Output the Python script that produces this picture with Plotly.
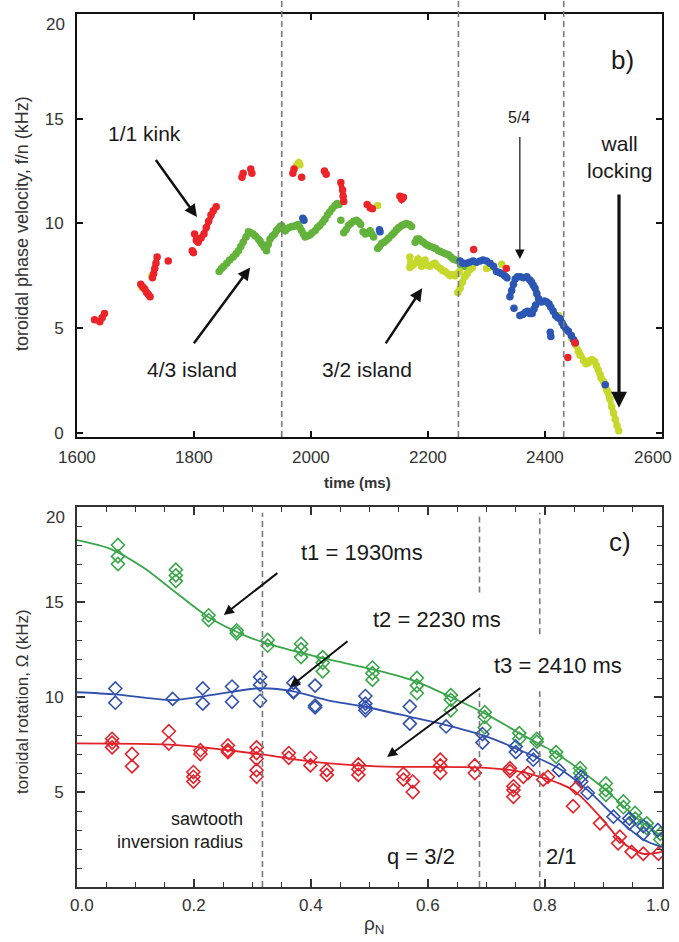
import plotly.graph_objects as go

W, H = 679, 942
FONT = "Arial, Liberation Sans, sans-serif"

# ---------------- panel b): toroidal phase velocity vs time ----------------
# segments separated by None
red_t = [1630, None, 1639, 1643, 1647, None,
         1709, 1713, 1716, 1719, 1722, 1725, None,
         1737, 1735, 1733, 1731, 1729, None,
         1756, None, 1797, 1799, None,
         1801, 1804, 1807, 1812, 1817, 1821, 1825, 1829, 1833, 1838, None,
         1882, 1884, None, 1897, 1899, None, 1969, 1971, None, 1984, None,
         2023, 2026, None, 2051, 2054, 2055, 2056, None,
         2096, 2101, 2105, None, 2152, 2155, 2158, None,
         2278, None, 2334, None, 2439, None, 2451]
red_f = [5.4, None, 5.3, 5.5, 5.7, None,
         7.1, 6.95, 6.85, 6.7, 6.6, 6.5, None,
         8.4, 8.1, 7.85, 7.6, 7.4, None,
         8.2, None, 8.7, 8.6, None,
         9.5, 9.2, 9.1, 9.3, 9.5, 9.8, 10.1, 10.4, 10.6, 10.8, None,
         12.2, 12.4, None, 12.6, 12.4, None, 12.4, 12.6, None, 12.2, None,
         12.5, 12.35, None, 11.95, 11.6, 11.3, 11.05, None,
         10.9, 10.75, 10.7, None, 11.3, 11.15, 11.25, None,
         8.75, None, 7.85, None, 3.6, None, 4.3]

green_t = [1843, 1847, 1851, 1856, 1861, 1867, 1872, 1876, 1880, 1884, 1889, 1893,
           1897, 1901, 1905, 1910, 1913, 1916, 1920, 1924, 1927, 1930, 1934, 1938,
           1941, 1944, 1947, 1950, 1953, 1956, 1959, 1963, 1967, 1970, 1974, 1978,
           1981, 1984, 1987, 1990, 1994, 1998, 2002, 2007, 2011, 2015, 2020, 2024,
           2028, 2032, 2036, 2041, 2045, 2048, None,
           2051, None,
           2056, 2060, 2064, 2068, 2073, 2078, 2082, 2085, None,
           2089, 2093, 2097, 2101, 2104, 2107, None,
           2114, 2117, 2121, 2125, 2129, 2133, 2138, 2142, 2146, 2150, 2155, 2159,
           2163, 2168, 2172, None,
           2178, 2181, 2185, 2189, 2192, 2196, 2200, 2204, 2209, 2213, 2218, 2222,
           2226, 2230, 2235, 2239, 2243, 2247, 2252, 2256, 2262, 2268]
green_f = [7.7, 7.85, 7.95, 8.1, 8.25, 8.4, 8.55, 8.7, 8.9, 9.1, 9.35, 9.6,
           9.55, 9.5, 9.4, 9.25, 9.15, 9.0, 8.85, 8.7, 9.0, 9.25, 9.4, 9.5,
           9.65, 9.75, 9.85, 9.9, 9.75, 9.65, 9.75, 9.8, 9.85, 9.85, 9.9, 9.95,
           9.8, 9.65, 9.5, 9.35, 9.4, 9.45, 9.55, 9.65, 9.8, 9.9, 10.05, 10.2,
           10.4, 10.55, 10.7, 10.85, 10.95, 10.9, None,
           10.15, None,
           9.55, 9.7, 9.9, 10.0, 10.1, 10.15, 10.05, 9.95, None,
           9.6, 9.5, 9.55, 9.65, 9.5, 9.35, None,
           8.8, 8.9, 9.05, 9.1, 9.2, 9.3, 9.45, 9.55, 9.7, 9.8, 9.9, 9.95,
           10.0, 9.95, 9.85, None,
           9.1, 9.25, 9.25, 9.15, 9.1, 9.0, 8.95, 8.9, 8.85, 8.8, 8.7, 8.65,
           8.6, 8.55, 8.5, 8.4, 8.3, 8.25, 8.2, 8.0, 7.95, 7.95]

yellow_t = [1711, None, 1728, None, 1975, 1979, 1981, None, 2114, None,
            2169, 2169, 2174, 2178, 2183, 2189, 2195, 2199, 2203, 2208, 2212, 2216,
            2221, 2225, 2229, 2234, 2238, 2242, 2246, 2250, 2254, None,
            2251, 2255, 2259, 2263, 2267, 2272, 2276, None,
            2300, 2304, None, 2326, None, 2386, None, 2423, None,
            2446, 2452, 2457, 2460, 2466, 2470, 2474, 2477, 2480, 2485, 2488, 2491,
            2494, 2496, 2500, 2503, 2506, 2508, 2511, 2514, 2517, 2520, 2523, 2526]
yellow_f = [6.95, None, 7.5, None, 12.75, 12.9, 12.8, None, 10.85, None,
            8.4, 7.9, 8.0, 8.1, 8.3, 7.95, 8.25, 8.0, 7.95, 8.05, 8.1, 7.95,
            7.85, 7.75, 7.7, 7.6, 7.5, 7.55, 7.5, 7.6, 7.7, None,
            6.7, 6.9, 7.2, 7.45, 7.6, 7.8, 7.9, None,
            7.85, 7.9, None, 8.05, None, 6.6, None, 5.6, None,
            4.5, 4.2, 3.9, 3.7, 3.45, 3.3, 3.35, 3.45, 3.5, 3.4, 3.2, 3.0,
            2.8, 2.6, 2.45, 2.3, 2.05, 1.9, 1.6, 1.25, 0.95, 0.65, 0.35, 0.1]

blue_t = [1986, 1988, None, 2117, 2118, None,
          2255, 2260, 2266, 2271, 2277, 2283, 2289, 2294, 2300, 2306, 2312, 2317,
          2322, 2326, 2331, 2335, None,
          2340, 2343, 2346, 2349, 2353, 2358, 2363, 2369, 2374, 2377, 2380, 2383,
          2386, 2389, 2394, 2399, 2403, 2407, 2410, 2414, 2418, 2422, 2426, 2429,
          2432, 2436, 2440, 2445, 2449, 2452, None,
          2347, None, 2357, 2362, 2366, 2370, 2374, 2378, 2381, 2384, None,
          2409, 2410, None, 2503]
blue_f = [10.25, 10.15, None, 9.7, 9.6, None,
          8.2, 8.1, 8.1, 8.15, 8.2, 8.15, 8.2, 8.25, 8.2, 8.1, 7.95, 7.7,
          7.65, 7.6, 7.5, 7.4, None,
          6.5, 6.8, 7.1, 7.35, 7.45, 7.45, 7.4, 7.45, 7.3, 7.2, 7.05, 6.9,
          6.65, 6.4, 6.25, 6.3, 6.25, 6.15, 6.0, 5.8, 5.6, 5.5, 5.45, 5.25,
          5.1, 4.95, 4.85, 4.65, 4.45, 4.3, None,
          5.95, None, 5.6, 5.65, 5.75, 5.8, 5.7, 5.7, 5.9, 6.1, None,
          4.8, 4.6, None, 2.3]

time_ticks = [1600, 1800, 2000, 2200, 2400, 2600]
time_labels = ["1600", "1800", "2000", "2200", "2400", "2600"]
freq_ticks = [0, 5, 10, 15]
top_markers = [2252, 2432]
kink_marker = 1950

# ---------------- panel c): rotation profiles ----------------
t1_rho = [0.070, 0.070, 0.070, 0.169, 0.169, 0.169, 0.225, 0.225, 0.273, 0.273,
          0.326, 0.326, 0.383, 0.383, 0.383, 0.420, 0.420, 0.420, 0.505, 0.505,
          0.505, 0.581, 0.581, 0.581, 0.639, 0.639, 0.639, 0.697, 0.697, 0.697,
          0.756, 0.756, 0.786, 0.786, 0.819, 0.819, 0.860, 0.860, 0.904, 0.904,
          0.904, 0.934, 0.934, 0.954, 0.954, 0.974, 0.974, 0.997, 0.997]
t1_om = [18.0, 17.4, 17.0, 16.7, 16.4, 16.1, 14.3, 14.05, 13.5, 13.35,
         13.0, 12.7, 12.8, 12.5, 12.1, 12.1, 11.8, 11.35, 11.55, 11.25,
         10.9, 11.0, 10.6, 10.2, 10.1, 9.85, 9.3, 9.2, 8.95, 8.4,
         8.1, 7.8, 7.8, 7.65, 7.1, 6.85, 6.25, 6.0, 5.45, 5.1,
         4.85, 4.5, 4.2, 3.9, 3.6, 3.35, 3.1, 2.8, 2.5]
t1_fit_rho = [0.0, 0.057, 0.114, 0.171, 0.228, 0.285, 0.319, 0.399, 0.456, 0.513,
              0.581, 0.639, 0.697, 0.756, 0.819, 0.860, 0.904, 0.954, 1.0]
t1_fit_om = [18.26, 17.8, 16.8, 15.45, 14.14, 13.26, 12.87, 12.2, 11.8, 11.4,
             10.8, 10.0, 9.14, 8.1, 7.03, 6.16, 5.1, 3.7, 2.65]

t2_rho = [0.0655, 0.0655, 0.1635, 0.215, 0.215, 0.265, 0.265, 0.313, 0.313, 0.313,
          0.370, 0.370, 0.370, 0.407, 0.407, 0.407, 0.493, 0.493, 0.493, 0.493,
          0.569, 0.569, 0.631, 0.693, 0.693, 0.750, 0.750, 0.780, 0.780, 0.824,
          0.862, 0.862, 0.873, 0.917, 0.944, 0.944, 0.968, 0.968, 0.993]
t2_om = [10.45, 9.7, 9.9, 10.45, 9.65, 10.55, 9.75, 11.05, 10.65, 9.8,
         10.75, 10.3, 10.25, 10.6, 9.55, 9.45, 10.05, 9.65, 9.45, 9.3,
         9.5, 8.6, 8.45, 8.05, 7.6, 7.4, 7.1, 6.95, 6.7, 6.15,
         5.8, 5.55, 4.95, 3.7, 3.6, 3.35, 3.2, 2.8, 3.0]
t2_fit_rho = [0.0, 0.0655, 0.1635, 0.228, 0.313, 0.370, 0.427, 0.490, 0.569, 0.631,
              0.693, 0.750, 0.824, 0.873, 0.917, 0.968, 1.0]
t2_fit_om = [10.25, 10.14, 9.84, 10.1, 10.46, 10.3, 9.84, 9.5, 8.96, 8.52,
             7.99, 7.3, 6.24, 5.1, 3.79, 2.5, 2.1]

t3_rho = [0.060, 0.060, 0.060, 0.094, 0.094, 0.157, 0.157, 0.199, 0.199, 0.199,
          0.211, 0.211, 0.258, 0.258, 0.258, 0.307, 0.307, 0.307, 0.307, 0.307,
          0.362, 0.362, 0.399, 0.399, 0.427, 0.427, 0.481, 0.481, 0.481, 0.558,
          0.558, 0.574, 0.574, 0.621, 0.621, 0.621, 0.680, 0.680, 0.740, 0.740,
          0.746, 0.746, 0.746, 0.763, 0.771, 0.797, 0.805, 0.848, 0.853, 0.894,
          0.925, 0.928, 0.948, 0.968, 0.994]
t3_om = [7.8, 7.6, 7.35, 7.0, 6.35, 8.2, 7.55, 6.05, 5.8, 5.55,
         7.2, 7.0, 7.45, 7.2, 7.1, 7.35, 7.05, 6.75, 6.15, 5.8,
         7.05, 6.8, 6.8, 6.4, 6.15, 5.9, 6.45, 6.2, 5.9, 5.95,
         5.65, 5.55, 5.0, 6.7, 6.4, 6.0, 6.4, 6.0, 6.25, 6.1,
         5.3, 5.1, 4.75, 5.8, 6.0, 5.65, 5.8, 4.25, 5.2, 3.35,
         2.3, 2.65, 1.85, 1.75, 1.75]
t3_fit_rho = [0.0, 0.171, 0.316, 0.400, 0.513, 0.680, 0.740, 0.792, 0.848, 0.894,
              0.934, 0.968, 1.0]
t3_fit_om = [7.56, 7.47, 6.98, 6.6, 6.35, 6.3, 6.16, 5.8, 5.1, 3.7,
             2.3, 1.75, 1.85]

rho_ticks = [0.0, 0.2, 0.4, 0.6, 0.8, 1.0]
rho_labels = ["0.0", "0.2", "0.4", "0.6", "0.8", "1.0"]
om_ticks = [5, 10, 15]
sawtooth_rho = 0.317
q32_rho = 0.688
q21_rho = 0.791

# ---------------- layout geometry (pixels -> paper) ----------------
X0, X1 = 77, 662
TOP_Y0, TOP_Y1 = 14, 437
BOT_Y0, BOT_Y1 = 507, 887
xdom = [X0 / W, X1 / W]
ydom_top = [1 - TOP_Y1 / H, 1 - TOP_Y0 / H]
ydom_bot = [1 - BOT_Y1 / H, 1 - BOT_Y0 / H]

C_RED, C_GREEN, C_YEL, C_BLUE = "#ec2328", "#63b23b", "#c7d82c", "#2b56b3"
L_GREEN, L_BLUE, L_RED = "#3aa64a", "#3050ae", "#e1222b"

fig = go.Figure()

for t, f, c in [(green_t, green_f, C_GREEN), (yellow_t, yellow_f, C_YEL),
                (blue_t, blue_f, C_BLUE), (red_t, red_f, C_RED)]:
    fig.add_trace(go.Scatter(x=t, y=f, mode="lines+markers", xaxis="x", yaxis="y",
                             line=dict(color=c, width=5.5),
                             marker=dict(color=c, size=7.5),
                             connectgaps=False, showlegend=False, hoverinfo="skip"))

for r, o, fr, fo, c in [(t1_rho, t1_om, t1_fit_rho, t1_fit_om, L_GREEN),
                        (t2_rho, t2_om, t2_fit_rho, t2_fit_om, L_BLUE),
                        (t3_rho, t3_om, t3_fit_rho, t3_fit_om, L_RED)]:
    fig.add_trace(go.Scatter(x=fr, y=fo, mode="lines", xaxis="x2", yaxis="y2",
                             line=dict(color=c, width=1.8, shape="spline", smoothing=0.8),
                             showlegend=False, hoverinfo="skip"))
    fig.add_trace(go.Scatter(x=r, y=o, mode="markers", xaxis="x2", yaxis="y2",
                             marker=dict(symbol="diamond-open", size=10, color=c,
                                         line=dict(color=c, width=1.6)),
                             showlegend=False, hoverinfo="skip"))

# dashed markers of time slices (panel b) and rational surfaces (panel c)
DASH = dict(color="#7a7a7a", width=1.6, dash="6px,4px")
shapes = []
for xv in [kink_marker] + top_markers:
    shapes.append(dict(type="line", xref="x", yref="paper", x0=xv, x1=xv,
                       y0=ydom_top[0], y1=1.0, line=DASH))
shapes.append(dict(type="line", xref="x2", yref="y2", x0=sawtooth_rho, x1=sawtooth_rho,
                   y0=0, y1=19.7, line=DASH))
for y0, y1 in [(0, 10.2), (15.5, 19.7)]:
    shapes.append(dict(type="line", xref="x2", yref="y2", x0=q32_rho, x1=q32_rho,
                       y0=y0, y1=y1, line=DASH))
for y0, y1 in [(0, 10.3), (13.3, 19.7)]:
    shapes.append(dict(type="line", xref="x2", yref="y2", x0=q21_rho, x1=q21_rho,
                       y0=y0, y1=y1, line=DASH))

ann = []


def label(x, y, text, size, xr="x", yr="y", **kw):
    d = dict(x=x, y=y, xref=xr, yref=yr, text=text, showarrow=False,
             font=dict(family=FONT, size=size, color="#1a1a1a"),
             xanchor="center", yanchor="middle")
    d.update(kw)
    ann.append(d)


def arrow(hx, hy, tx, ty, width, size=1.0, xr="x", yr="y"):
    ann.append(dict(x=hx, y=hy, ax=tx, ay=ty, xref=xr, yref=yr, axref=xr, ayref=yr,
                    text="", showarrow=True, arrowhead=2, arrowsize=size,
                    arrowwidth=width, arrowcolor="#111111"))


# panel b) labels
label(1716, 14.3, "1/1 kink", 21)
arrow(1805, 10.3, 1733, 13.1, 2.5)
label(1797, 3.0, "4/3 island", 21)
arrow(1896, 7.9, 1798, 4.2, 2.5)
label(2096, 3.0, "3/2 island", 21)
arrow(2190, 6.9, 2126, 4.2, 2.5)
label(2356, 15.05, "5/4", 16)
arrow(2357, 8.3, 2357, 14.2, 1.2, size=1.6)
label(2528, 13.15, "wall<br>locking", 21)
arrow(2526.5, 1.2, 2526.5, 11.45, 3.2)
label(2532, 17.8, "b)", 26)

# panel c) labels
label(0.928, 18.16, "c)", 26, "x2", "y2")
label(0.487, 17.63, "t1 = 1930ms", 22, "x2", "y2")
arrow(0.251, 14.32, 0.345, 16.58, 2.0, xr="x2", yr="y2")
label(0.615, 14.1, "t2 = 2230 ms", 22, "x2", "y2")
arrow(0.364, 10.53, 0.465, 13.0, 2.0, xr="x2", yr="y2")
label(0.822, 11.68, "t3 = 2410 ms", 22, "x2", "y2")
arrow(0.530, 6.84, 0.692, 10.53, 2.0, xr="x2", yr="y2")
label(0.287, 2.95, "sawtooth<br>inversion radius", 18, "x2", "y2",
      xanchor="right", align="right")
label(0.588, 1.58, "q = 3/2", 22, "x2", "y2")
label(0.829, 1.58, "2/1", 22, "x2", "y2")

# x tick labels: placed under each tick, the outermost ones nudged inside the page
TICKFONT = dict(family=FONT, size=17, color="#333333")
n_time = len(time_ticks)
for i, (tv, tl) in enumerate(zip(time_ticks, time_labels)):
    shift = -9 if i == n_time - 1 else 0
    ann.append(dict(x=tv, y=1 - 457 / H, xref="x", yref="paper", text=tl,
                    xshift=shift, showarrow=False, font=TICKFONT,
                    xanchor="center", yanchor="middle"))
n_rho = len(rho_ticks)
for i, (tv, tl) in enumerate(zip(rho_ticks, rho_labels)):
    shift = 5 if i == 0 else (-4 if i == n_rho - 1 else 0)
    ann.append(dict(x=tv, y=1 - 905 / H, xref="x2", yref="paper", text=tl,
                    xshift=shift, showarrow=False, font=TICKFONT,
                    xanchor="center", yanchor="middle"))

# axis titles and the top y tick labels
TITLE = dict(family=FONT, size=17, color="#333333")
ann.append(dict(x=22 / W, y=1 - 224 / H, xref="paper", yref="paper",
                text="toroidal phase velocity, f/n (kHz)", textangle=-90,
                showarrow=False, font=dict(family=FONT, size=18, color="#333333"),
                xanchor="center", yanchor="middle"))
ann.append(dict(x=357 / W, y=1 - 482 / H, xref="paper", yref="paper",
                text="time (ms)", showarrow=False,
                font=dict(family=FONT, size=15, color="#333333", weight="bold"),
                xanchor="center", yanchor="middle"))
ann.append(dict(x=22 / W, y=1 - 702 / H, xref="paper", yref="paper",
                text="toroidal rotation, Ω (kHz)", textangle=-90,
                showarrow=False, font=TITLE, xanchor="center", yanchor="middle"))
ann.append(dict(x=374 / W, y=1 - 925 / H, xref="paper", yref="paper",
                text="ρ<sub>N</sub>", showarrow=False,
                font=dict(family=FONT, size=19, color="#333333"),
                xanchor="center", yanchor="middle"))
ann.append(dict(x=67 / W, y=1 - 25 / H, xref="paper", yref="paper", text="20",
                showarrow=False, font=TICKFONT, xanchor="right", yanchor="middle"))
ann.append(dict(x=67 / W, y=1 - 517 / H, xref="paper", yref="paper", text="20",
                showarrow=False, font=TICKFONT, xanchor="right", yanchor="middle"))

AX_TOP = dict(showline=True, linecolor="#111111", linewidth=2, mirror="ticks",
              ticks="inside", ticklen=6, tickwidth=1.5, tickcolor="#111111",
              showgrid=False, zeroline=False, tickfont=TICKFONT, automargin=False)
AX_BOT = dict(showline=True, linecolor="#333333", linewidth=2, mirror="ticks",
              ticks="inside", ticklen=8, tickwidth=1.5, tickcolor="#333333",
              showgrid=False, zeroline=False, tickfont=TICKFONT, automargin=False)

fig.update_layout(
    width=W, height=H, margin=dict(l=0, r=0, t=0, b=0, autoexpand=False),
    paper_bgcolor="white", plot_bgcolor="white", showlegend=False,
    font=dict(family=FONT),
    xaxis=dict(domain=xdom, anchor="y", range=[1600, 2600], tickvals=time_ticks,
               showticklabels=False, **AX_TOP),
    yaxis=dict(domain=ydom_top, anchor="x", range=[-0.2, 20], tickvals=freq_ticks,
               ticklabelstandoff=8, **AX_TOP),
    xaxis2=dict(domain=xdom, anchor="y2", range=[0, 1], tickvals=rho_ticks,
                showticklabels=False,
                minor=dict(dtick=0.05, ticks="inside", ticklen=5, tickcolor="#333333",
                           tickwidth=1.2),
                **AX_BOT),
    yaxis2=dict(domain=ydom_bot, anchor="x2", range=[0, 20], tickvals=om_ticks,
                ticklabelstandoff=8,
                minor=dict(dtick=1, ticks="inside", ticklen=5, tickcolor="#333333",
                           tickwidth=1.2),
                **AX_BOT),
    shapes=shapes, annotations=ann,
)

fig.write_html("out.html")
